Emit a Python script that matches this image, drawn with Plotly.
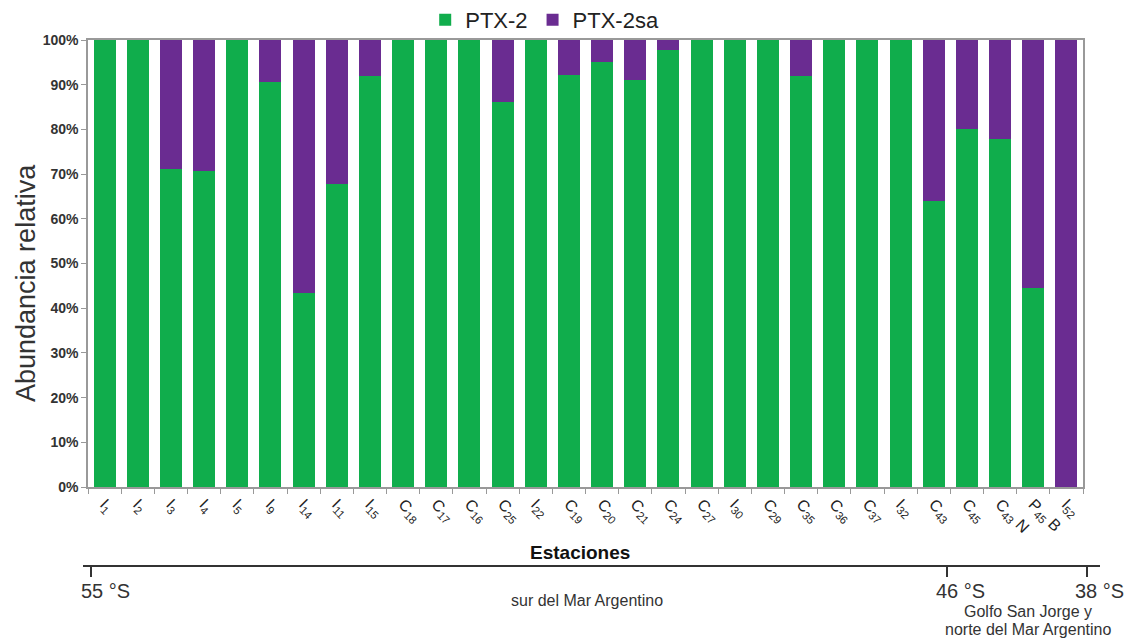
import plotly.graph_objects as go

stations = ["I1", "I2", "I3", "I4", "I5", "I9", "I14", "I11", "I15", "C18", "C17", "C16",
            "C25", "I22", "C19", "C20", "C21", "C24", "C27", "I30", "C29", "C35", "C36",
            "C37", "I32", "C43", "C45", "C43 N", "P45 B", "I52"]
tick_labels = ["I<sub>1</sub>", "I<sub>2</sub>", "I<sub>3</sub>", "I<sub>4</sub>", "I<sub>5</sub>",
               "I<sub>9</sub>", "I<sub>14</sub>", "I<sub>11</sub>", "I<sub>15</sub>",
               "C<sub>18</sub>", "C<sub>17</sub>", "C<sub>16</sub>", "C<sub>25</sub>",
               "I<sub>22</sub>", "C<sub>19</sub>", "C<sub>20</sub>", "C<sub>21</sub>",
               "C<sub>24</sub>", "C<sub>27</sub>", "I<sub>30</sub>", "C<sub>29</sub>",
               "C<sub>35</sub>", "C<sub>36</sub>", "C<sub>37</sub>", "I<sub>32</sub>",
               "C<sub>43</sub>", "C<sub>45</sub>", "C<sub>43</sub> N", "P<sub>45</sub> B",
               "I<sub>52</sub>"]
ptx2 = [100, 100, 71.2, 70.6, 100, 90.7, 43.3, 67.8, 92.0, 100, 100, 100,
        86.1, 100, 92.2, 95.0, 91.1, 97.7, 100, 100, 100, 91.9, 100,
        100, 100, 64.0, 80.1, 77.8, 44.6, 0]
ptx2sa = [0, 0, 28.8, 29.4, 0, 9.3, 56.7, 32.2, 8.0, 0, 0, 0,
          13.9, 0, 7.8, 5.0, 8.9, 2.3, 0, 0, 0, 8.1, 0,
          0, 0, 36.0, 19.9, 22.2, 55.4, 100]
y_ticks = [0, 10, 20, 30, 40, 50, 60, 70, 80, 90, 100]
y_tick_labels = ["0%", "10%", "20%", "30%", "40%", "50%", "60%", "70%", "80%", "90%", "100%"]

GREEN = "#10AD4C"
PURPLE = "#6A2C91"
FONT = "Liberation Sans, Arial, sans-serif"

fig = go.Figure()
fig.add_trace(go.Bar(x=stations, y=ptx2, name="PTX-2", marker=dict(color=GREEN, line=dict(width=0))))
fig.add_trace(go.Bar(x=stations, y=ptx2sa, name="PTX-2sa", marker=dict(color=PURPLE, line=dict(width=0))))

fig.update_layout(
    barmode="stack",
    bargap=0.34,
    width=1129, height=639,
    margin=dict(l=88, r=46, t=40, b=152, autoexpand=False),
    paper_bgcolor="white", plot_bgcolor="white",
    font=dict(family=FONT, color="#222"),
    showlegend=True,
    legend=dict(orientation="h", x=0.459, xanchor="center", y=0.998, yanchor="bottom",
                font=dict(size=22, color="#222"), itemwidth=30, traceorder="normal",
                bgcolor="rgba(0,0,0,0)"),
    xaxis=dict(tickvals=stations, ticktext=tick_labels, tickangle=45, automargin=False,
               tickfont=dict(size=16, color="#222"),
               showline=True, linecolor="#999", linewidth=1.5, mirror=True,
               ticks="outside", tickson="boundaries", ticklen=5, tickcolor="#999",
               showgrid=False),
    yaxis=dict(range=[0, 100], tickvals=y_ticks, ticktext=y_tick_labels,
               tickfont=dict(size=14, color="#333", weight="bold"), automargin=False,
               showline=True, linecolor="#999", linewidth=1.5, mirror=True,
               ticks="outside", ticklen=5, tickcolor="#999", showgrid=False),
)

W = 995.0
H = 447.0
def px(X):
    return (X - 88) / W
def py(Y):
    return (487 - Y) / H

shapes = [
    dict(type="line", xref="paper", yref="paper", x0=px(83), x1=px(1100), y0=py(566), y1=py(566),
         line=dict(color="#333", width=2)),
]
for tx in [91, 947, 1087]:
    shapes.append(dict(type="line", xref="paper", yref="paper", x0=px(tx), x1=px(tx),
                       y0=py(566), y1=py(577), line=dict(color="#333", width=2)))
fig.update_layout(shapes=shapes)

ann = [
    dict(text="Abundancia relativa", x=px(26), y=py(283), size=27, color="#333", angle=-90),
    dict(text="<b>Estaciones</b>", x=px(580), y=py(552), size=19, color="#111", angle=0),
    dict(text="55 °S", x=px(105), y=py(591), size=20, color="#333", angle=0),
    dict(text="46 °S", x=px(960), y=py(591), size=20, color="#333", angle=0),
    dict(text="38 °S", x=px(1099), y=py(591), size=20, color="#333", angle=0),
    dict(text="sur del Mar Argentino", x=px(587), y=py(600), size=16, color="#333", angle=0),
    dict(text="Golfo San Jorge y", x=px(1028), y=py(611), size=16, color="#333", angle=0),
    dict(text="norte del Mar Argentino", x=px(1028), y=py(629), size=16, color="#333", angle=0),
]
for a in ann:
    fig.add_annotation(text=a["text"], x=a["x"], y=a["y"], xref="paper", yref="paper",
                       showarrow=False, xanchor="center", yanchor="middle", textangle=a["angle"],
                       font=dict(size=a["size"], color=a["color"], family=FONT))

fig.write_html("out.html", config={"displayModeBar": False},
               post_script="document.body.style.margin='0';")
